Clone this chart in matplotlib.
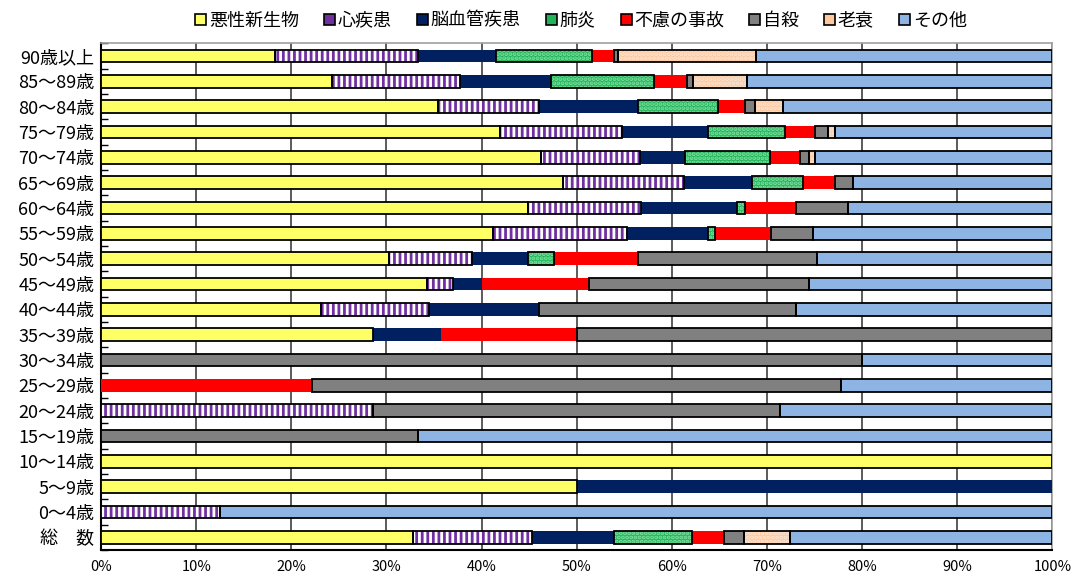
import matplotlib
matplotlib.use("Agg")
import matplotlib.pyplot as plt
from matplotlib.patches import Patch
import numpy as np

plt.rcParams['font.family'] = ['Noto Sans CJK JP', 'DejaVu Sans']
plt.rcParams['hatch.linewidth'] = 2.0

age_labels = ['90歳以上', '85～89歳', '80～84歳', '75～79歳', '70～74歳', '65～69歳',
              '60～64歳', '55～59歳', '50～54歳', '45～49歳', '40～44歳', '35～39歳',
              '30～34歳', '25～29歳', '20～24歳', '15～19歳', '10～14歳', '5～9歳',
              '0～4歳', '総　数']

causes = ['悪性新生物', '心疾患', '脳血管疾患', '肺炎', '不慮の事故', '自殺', '老衰', 'その他']

malignant = [18.3, 24.3, 35.4, 41.9, 46.2, 48.6, 44.9, 41.2, 30.3, 34.3, 23.1, 28.6, 0, 0, 0, 0, 100, 50, 0, 32.8]
heart     = [15.0, 13.4, 10.6, 12.9, 10.4, 12.7, 11.9, 14.1, 8.7, 2.7, 11.4, 0, 0, 0, 28.6, 0, 0, 0, 12.5, 12.5]
cerebro   = [8.2, 9.6, 10.4, 9.0, 4.8, 7.1, 10.0, 8.5, 5.9, 3.0, 11.5, 7.1, 0, 0, 0, 0, 0, 50, 0, 8.6]
pneumonia = [10.1, 10.8, 8.4, 8.1, 8.9, 5.4, 0.9, 0.7, 2.7, 0, 0, 0, 0, 0, 0, 0, 0, 0, 0, 8.2]
accident  = [2.3, 3.5, 2.9, 3.1, 3.2, 3.3, 5.4, 5.9, 8.8, 11.3, 0, 14.3, 0, 22.2, 0, 0, 0, 0, 0, 3.4]
suicide   = [0.4, 0.6, 1.0, 1.4, 0.9, 1.9, 5.4, 4.4, 18.9, 23.1, 27.1, 50.0, 80.0, 55.6, 42.8, 33.3, 0, 0, 0, 2.1]
senility  = [14.5, 5.7, 3.0, 0.7, 0.6, 0, 0, 0, 0, 0, 0, 0, 0, 0, 0, 0, 0, 0, 0, 4.8]
others    = [31.2, 32.1, 28.3, 22.9, 25.0, 21.0, 21.5, 25.2, 24.7, 25.6, 26.9, 0, 20.0, 22.2, 28.6, 66.7, 0, 0, 87.5, 27.6]

x_ticks = [0, 10, 20, 30, 40, 50, 60, 70, 80, 90, 100]
x_tick_labels = ['0%', '10%', '20%', '30%', '40%', '50%', '60%', '70%', '80%', '90%', '100%']

series = [malignant, heart, cerebro, pneumonia, accident, suicide, senility, others]
styles = [
    dict(fc='#FFFF66', hatch=None, hc=None, edge=True),
    dict(fc='#7030A0', hatch='|||', hc='white', edge=True),
    dict(fc='#002060', hatch=None, hc=None, edge=False),
    dict(fc='#22B35A', hatch='....', hc='#7FE0A0', edge=True),
    dict(fc='#FF0000', hatch=None, hc=None, edge=False),
    dict(fc='#808080', hatch=None, hc=None, edge=True),
    dict(fc='#FFC89E', hatch='....', hc='#F8E6D6', edge=True),
    dict(fc='#8DB4E2', hatch=None, hc=None, edge=True),
]

fig = plt.figure(figsize=(10.76, 5.76), dpi=100)
ax = fig.add_axes([0.094, 0.045, 0.884, 0.88])

y = np.arange(len(age_labels))
h = 0.5
left = np.zeros(len(age_labels))
for vals, st in zip(series, styles):
    v = np.array(vals, dtype=float)
    m = v > 0
    if st['hatch']:
        ax.barh(y[m], v[m], left=left[m], height=h, color=st['fc'], hatch=st['hatch'],
                edgecolor=st['hc'], linewidth=0, zorder=3)
    else:
        ax.barh(y[m], v[m], left=left[m], height=h, color=st['fc'], linewidth=0, zorder=3)
    if st['edge']:
        ax.barh(y[m], v[m], left=left[m], height=h, fill=False, edgecolor='black',
                linewidth=1.3, zorder=4)
    left += v

ax.set_xlim(0, 100)
ax.set_ylim(len(age_labels) - 0.5, -0.5)
ax.set_xticks(x_ticks)
ax.set_xticklabels(x_tick_labels, fontsize=10.5)
ax.set_yticks(y)
ax.set_yticklabels(age_labels, fontsize=13)
ax.set_yticks(np.arange(-0.5, len(age_labels), 1.0), minor=True)
ax.tick_params(axis='y', which='major', length=0, pad=5)
ax.tick_params(axis='y', which='minor', direction='in', length=5, width=1, color='black')
ax.tick_params(axis='x', which='major', length=0, pad=7)
ax.xaxis.grid(True, color='#404040', linewidth=1.2, zorder=0)
ax.set_axisbelow(True)
for s in ['left', 'bottom']:
    ax.spines[s].set_color('black')
    ax.spines[s].set_linewidth(1.5)
for s in ['top', 'right']:
    ax.spines[s].set_color('#A0A0A0')
    ax.spines[s].set_linewidth(1.2)

handles = []
for name, st in zip(causes, styles):
    handles.append(Patch(facecolor=st['fc'], edgecolor='black', linewidth=1.2, label=name))
fig.legend(handles=handles, loc='upper center', bbox_to_anchor=(0.54, 1.0), ncol=8,
           frameon=False, fontsize=13, handlelength=0.6, handleheight=0.6,
           handletextpad=0.15, columnspacing=1.4, borderaxespad=0.25)

fig.savefig('out.png', dpi=100)
